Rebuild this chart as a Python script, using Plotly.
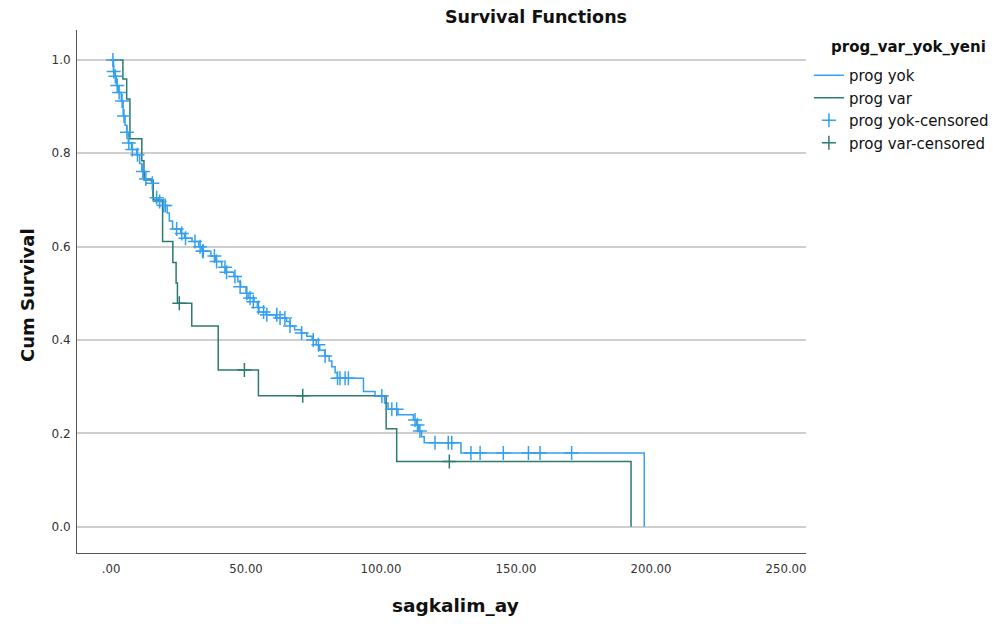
import plotly.graph_objects as go

# ---- data: prog yok (group without progression) ----
yok_event_t = [0.9, 1.3, 2.0, 2.7, 3.8, 4.5, 5.2, 5.8, 6.4, 7.6, 9.5, 10.6, 11.4, 12.4,
               15.0, 15.6, 17.4, 19.2, 20.8, 21.6, 22.8, 25.8, 27.2, 30.0, 32.5, 33.6,
               37.0, 38.8, 41.0, 42.4, 45.5, 47.0, 48.0, 50.0, 50.8, 53.0, 54.2, 54.8,
               57.5, 61.0, 65.0, 66.3, 68.0, 70.5, 72.5, 74.5, 76.0, 77.3, 79.2, 80.8,
               81.8, 83.0, 83.8, 93.5, 97.8, 101.3, 102.6, 106.3, 112.0, 113.2, 114.0,
               115.0, 116.0, 129.6, 197.5]
yok_event_s = [0.975, 0.965, 0.945, 0.930, 0.912, 0.880, 0.860, 0.845, 0.822, 0.808, 0.797,
               0.778, 0.761, 0.745, 0.736, 0.705, 0.697, 0.688, 0.672, 0.655, 0.638, 0.628,
               0.618, 0.611, 0.600, 0.590, 0.580, 0.568, 0.556, 0.545, 0.536, 0.525, 0.514,
               0.500, 0.490, 0.482, 0.470, 0.460, 0.454, 0.447, 0.440, 0.430, 0.422, 0.415,
               0.408, 0.400, 0.390, 0.378, 0.366, 0.355, 0.343, 0.330, 0.318, 0.290, 0.280,
               0.265, 0.252, 0.240, 0.229, 0.218, 0.205, 0.193, 0.180, 0.158, 0.0]
yok_cens_t = [0.7, 1.0, 1.6, 2.3, 3.0, 4.1, 4.8, 5.9, 6.6, 7.9, 9.8, 11.8, 12.9, 15.3,
              16.9, 18.0, 19.5, 20.1, 24.3, 26.2, 27.6, 31.1, 33.0, 33.9, 34.2, 38.3, 39.1,
              42.2, 42.8, 45.9, 47.8, 50.3, 51.5, 52.7, 54.6, 56.5, 57.7, 61.4, 62.6, 64.4,
              66.3, 70.6, 74.9, 76.8, 79.3, 83.9, 84.8, 86.7, 87.9, 100.3, 104.0, 105.8,
              112.6, 113.5, 114.4, 120.0, 124.9, 126.2, 133.3, 136.7, 145.3, 154.6, 158.9,
              170.6]
yok_cens_s = [1.0, 0.975, 0.965, 0.945, 0.930, 0.912, 0.880, 0.845, 0.822, 0.808, 0.797,
              0.761, 0.745, 0.736, 0.705, 0.697, 0.688, 0.688, 0.638, 0.628, 0.618, 0.611,
              0.600, 0.590, 0.590, 0.580, 0.568, 0.556, 0.545, 0.536, 0.514, 0.500, 0.490,
              0.482, 0.470, 0.460, 0.454, 0.454, 0.447, 0.447, 0.430, 0.415, 0.400, 0.390,
              0.366, 0.318, 0.318, 0.318, 0.318, 0.280, 0.252, 0.252, 0.229, 0.218, 0.205,
              0.180, 0.180, 0.180, 0.158, 0.158, 0.158, 0.158, 0.158, 0.158]

# ---- data: prog var (group with progression) ----
var_event_t = [4.4, 5.8, 7.0, 11.4, 12.2, 15.6, 19.1, 22.9, 24.1, 24.6, 29.9, 39.7,
               54.6, 101.9, 105.8, 192.6]
var_event_s = [0.959, 0.916, 0.831, 0.784, 0.743, 0.700, 0.611, 0.566, 0.522, 0.479,
               0.430, 0.336, 0.2805, 0.210, 0.140, 0.0]
var_cens_t = [25.3, 49.4, 71.0, 125.3]
var_cens_s = [0.479, 0.336, 0.2805, 0.140]

x_tick_vals = [0, 50, 100, 150, 200, 250]
x_tick_text = [".00", "50.00", "100.00", "150.00", "200.00", "250.00"]
y_tick_vals = [0.0, 0.2, 0.4, 0.6, 0.8, 1.0]
y_tick_text = ["0.0", "0.2", "0.4", "0.6", "0.8", "1.0"]

BLUE = "#35a0f0"
TEAL = "#2c7a70"

fig = go.Figure()
fig.add_trace(go.Scatter(x=[0] + yok_event_t, y=[1.0] + yok_event_s, mode="lines",
                         line=dict(color=BLUE, width=1.5, shape="hv"), name="prog yok"))
fig.add_trace(go.Scatter(x=[0] + var_event_t, y=[1.0] + var_event_s, mode="lines",
                         line=dict(color=TEAL, width=1.5, shape="hv"), name="prog var"))
fig.add_trace(go.Scatter(x=yok_cens_t, y=yok_cens_s, mode="markers",
                         marker=dict(symbol="cross-thin", size=10,
                                     line=dict(color=BLUE, width=1.5)),
                         name="prog yok-censored"))
fig.add_trace(go.Scatter(x=var_cens_t, y=var_cens_s, mode="markers",
                         marker=dict(symbol="cross-thin", size=10,
                                     line=dict(color=TEAL, width=1.5)),
                         name="prog var-censored"))

# page body has an 8px margin: figure is 998x616 and sits at (8,8)
W, H = 998, 616
L, T, R, B = 69, 22, 200, 71
PW, PH = W - L - R, H - T - B  # 729 x 523

fig.update_layout(
    width=W, height=H,
    margin=dict(l=L, r=R, t=T, b=B),
    paper_bgcolor="white", plot_bgcolor="white",
    font=dict(family="DejaVu Sans", color="#222"),
    title=dict(text="<b>Survival Functions</b>", x=528 / W, xref="container",
               xanchor="center", y=1 - 9 / H, yanchor="middle",
               font=dict(size=17.5, family="DejaVu Sans", color="#111")),
    showlegend=True,
    legend=dict(x=1.004, xanchor="left", y=(545 - 51) / PH, yanchor="top",
                font=dict(size=15, family="DejaVu Sans", color="#111"),
                tracegroupgap=0, itemwidth=30, bgcolor="rgba(0,0,0,0)"),
    xaxis=dict(range=[-12.6, 257.4], tickvals=x_tick_vals, ticktext=x_tick_text,
               showgrid=False, zeroline=False, showline=True, linecolor="#555",
               linewidth=1, ticks="outside", ticklen=3, tickcolor="rgba(0,0,0,0)",
               tickfont=dict(size=13, family="DejaVu Sans Condensed, Liberation Sans",
                             color="#333")),
    yaxis=dict(range=[-0.056, 1.064], tickvals=y_tick_vals, ticktext=y_tick_text,
               showgrid=True, gridcolor="#cfcfcf", gridwidth=1.5, zeroline=False,
               showline=True, linecolor="#555", linewidth=1, ticks="outside", ticklen=3,
               tickcolor="rgba(0,0,0,0)",
               tickfont=dict(size=12, family="DejaVu Sans", color="#333")),
    annotations=[
        dict(text="<b>Cum Survival</b>", xref="paper", yref="paper",
             x=-(77 - 28) / PW, y=(553 - 295) / PH, xanchor="center", yanchor="middle",
             textangle=-90, showarrow=False,
             font=dict(size=18, family="DejaVu Sans", color="#111")),
        dict(text="<b>sagkalim_ay</b>", xref="paper", yref="paper",
             x=(455 - 77) / PW, y=-(605 - 553) / PH, xanchor="center", yanchor="middle",
             showarrow=False, font=dict(size=18.5, family="DejaVu Sans", color="#111")),
        dict(text="<b>prog_var_yok_yeni</b>", xref="paper", yref="paper",
             x=(908 - 77) / PW, y=(553 - 47) / PH, xanchor="center", yanchor="middle",
             showarrow=False, font=dict(size=15, family="DejaVu Sans", color="#111")),
    ],
)

fig.write_html("out.html")
